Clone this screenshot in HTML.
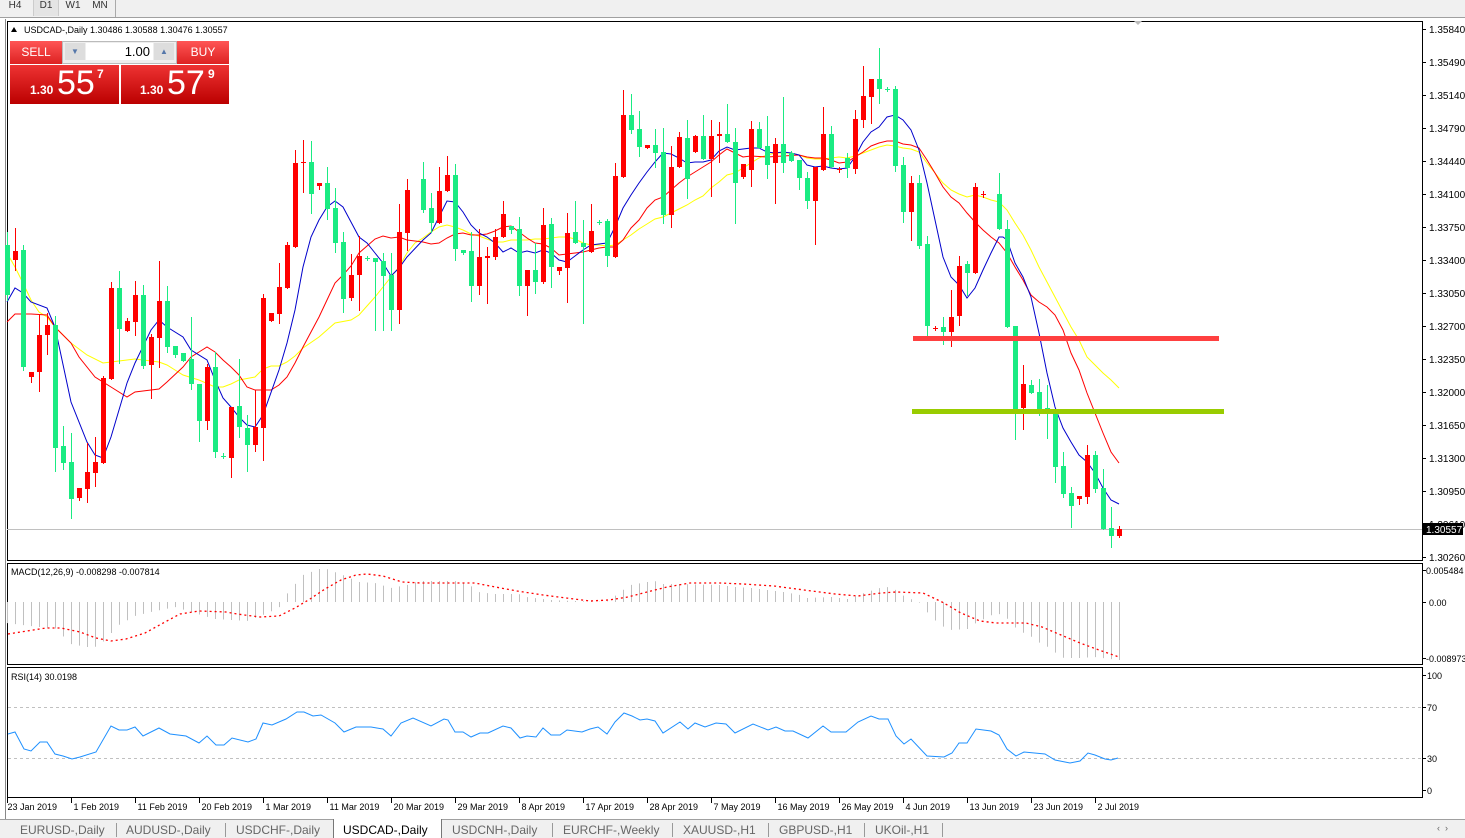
<!DOCTYPE html>
<html><head><meta charset="utf-8">
<style>
html,body{margin:0;padding:0;background:#fff;width:1465px;height:837px;overflow:hidden;font-family:"Liberation Sans",sans-serif;}
#top{position:absolute;left:0;top:0;width:1465px;height:17px;background:#f0f0f0;border-bottom:1px solid #a0a0a0;}
.tb{position:absolute;top:0;height:16px;font-size:10px;line-height:12px;color:#333;text-align:center;}
#bot{position:absolute;left:0;top:819px;width:1465px;height:18px;background:#f0f0f0;border-top:1px solid #a0a0a0;}
.tab{position:absolute;top:3px;font-size:12px;color:#666;}
.sep{position:absolute;top:3px;width:1px;height:14px;background:#999;}
svg{position:absolute;left:0;top:0;}
</style></head><body>
<div id="top">
<div class="tb" style="left:4px;width:22px">H4</div>
<div class="tb" style="left:33px;width:24px;background:#e4e4e4;border-left:1px solid #ccc;border-right:1px solid #ccc">D1</div>
<div class="tb" style="left:62px;width:22px">W1</div>
<div class="tb" style="left:89px;width:22px">MN</div>
<div style="position:absolute;left:115px;top:0;width:1px;height:17px;background:#aaa"></div>
</div>
<div id="bot">
<div class="tab" style="left:20px">EURUSD-,Daily</div><div class="sep" style="left:116px"></div>
<div class="tab" style="left:126px">AUDUSD-,Daily</div><div class="sep" style="left:225px"></div>
<div style="position:absolute;left:333px;top:-1px;width:107px;height:19px;background:#fff;border-left:1px solid #777;border-right:1px solid #777"></div>
<div class="tab" style="left:236px">USDCHF-,Daily</div>
<div class="tab" style="left:343px;color:#000">USDCAD-,Daily</div>
<div class="tab" style="left:452px">USDCNH-,Daily</div><div class="sep" style="left:552px"></div>
<div class="tab" style="left:563px">EURCHF-,Weekly</div><div class="sep" style="left:672px"></div>
<div class="tab" style="left:683px">XAUUSD-,H1</div><div class="sep" style="left:768px"></div>
<div class="tab" style="left:779px">GBPUSD-,H1</div><div class="sep" style="left:864px"></div>
<div class="tab" style="left:875px">UKOil-,H1</div><div class="sep" style="left:942px"></div>
<div class="tab" style="left:1437px;font-size:9px">‹ &nbsp;›</div>
</div>
<svg id="s" width="1465" height="837" xmlns="http://www.w3.org/2000/svg" font-family="Liberation Sans, sans-serif"></svg>
<div style="position:absolute;left:10px;top:41px;width:52px;height:23px;background:linear-gradient(#f55,#d22);color:#fff;font-size:12px;text-align:center;line-height:23px">SELL</div>
<div style="position:absolute;left:62px;top:41px;width:113px;height:21px;background:#eee;border:1px solid #bbb"></div>
<div style="position:absolute;left:65px;top:43px;width:20px;height:17px;background:#ddd;color:#57a;font-size:8px;text-align:center;line-height:17px">▼</div>
<div style="position:absolute;left:86px;top:43px;width:67px;height:17px;background:#fff;font-size:13px;text-align:right;line-height:17px;padding-right:3px;box-sizing:border-box">1.00</div>
<div style="position:absolute;left:154px;top:43px;width:20px;height:17px;background:#ddd;color:#57a;font-size:8px;text-align:center;line-height:17px">▲</div>
<div style="position:absolute;left:177px;top:41px;width:52px;height:23px;background:linear-gradient(#f55,#d22);color:#fff;font-size:12px;text-align:center;line-height:23px">BUY</div>
<div style="position:absolute;left:10px;top:65px;width:109px;height:39px;background:linear-gradient(#e33,#b00);color:#fff">
<span style="position:absolute;left:20px;top:18px;font-size:12px;font-weight:bold">1.30</span>
<span style="position:absolute;left:47px;top:-1px;font-size:34px">55</span>
<span style="position:absolute;left:87px;top:2px;font-size:12px;font-weight:bold">7</span></div>
<div style="position:absolute;left:121px;top:65px;width:108px;height:39px;background:linear-gradient(#e33,#b00);color:#fff">
<span style="position:absolute;left:19px;top:18px;font-size:12px;font-weight:bold">1.30</span>
<span style="position:absolute;left:46px;top:-1px;font-size:34px">57</span>
<span style="position:absolute;left:87px;top:2px;font-size:12px;font-weight:bold">9</span></div>
<script>
var s=document.getElementById('s'),h='';
function L(x1,y1,x2,y2,c,w,extra){h+='<line x1="'+x1+'" y1="'+y1+'" x2="'+x2+'" y2="'+y2+'" stroke="'+c+'" stroke-width="'+(w||1)+'" '+(extra||'')+'/>';}
function T(x,y,t,sz,c){h+='<text x="'+x+'" y="'+y+'" font-size="'+(sz||10)+'" fill="'+(c||'#000')+'">'+t+'</text>';}
// frames
h+='<rect x="7.5" y="21.5" width="1415" height="539" fill="#fff" stroke="#000"/>';
h+='<rect x="7.5" y="563.5" width="1415" height="101" fill="#fff" stroke="#000"/>';
h+='<rect x="7.5" y="667.5" width="1415" height="130" fill="#fff" stroke="#000"/>';
L(5.5,19,5.5,819,'#888',1);
// price axis
var pl=[['1.35840',29],['1.35490',62],['1.35140',95],['1.34790',128],['1.34440',161],['1.34100',194],['1.33750',227],['1.33400',260],['1.33050',293],['1.32700',326],['1.32350',359],['1.32000',392],['1.31650',425],['1.31300',458],['1.30950',491],['1.30610',524],['1.30260',557]];
pl.forEach(function(p){L(1422,p[1]+.5,1426,p[1]+.5,'#000');T(1429,p[1]+4,p[0],10);});
// current price line
L(7,529.5,1422,529.5,'#c0c0c0',1);
h+='<rect x="1423" y="523" width="40" height="12" fill="#000"/>';T(1426,533,'1.30557',10,'#fff');
T(24,33,'USDCAD-,Daily  1.30486 1.30588 1.30476 1.30557',9);
h+='<polygon points="11,32 17,32 14,27" fill="#000"/>';
h+='<polygon points="1134,21 1142,21 1138,25" fill="#bbb"/>';
// MAs
function P(pts,c){h+='<polyline fill="none" stroke="'+c+'" stroke-width="1" points="'+pts+'"/>';}
P("7,253 15,267 23,283 31,300 39,312 47,317 55,327 71,343 87,355 103,363 119,361 135,359 143,360 159,362 167,365 175,370 183,375 199,380 215,387 223,387 231,384 239,380 255,377 263,369 271,366 279,366 287,362 295,356 303,348 319,337 335,323 351,320 359,315 375,297 383,287 391,277 399,267 407,253 415,243 423,238 431,232 439,227 447,225 455,227 463,230 471,234 479,236 487,239 495,242 503,242 511,240 519,240 527,240 535,239 543,239 551,238 559,237 567,237 575,239 583,243 591,245 599,245 607,246 615,245 623,240 631,235 639,229 647,224 655,219 663,217 671,213 679,209 687,205 695,200 703,196 711,188 719,182 727,175 735,173 743,168 751,163 759,158 767,155 775,153 783,153 791,153 799,155 807,158 815,159 823,159 831,158 839,157 847,158 855,156 863,153 871,150 879,147 887,145 895,146 903,148 911,149 919,152 927,163 935,173 943,183 951,190 959,194 967,197 975,195 983,197 991,200 999,202 1007,210 1015,223 1023,235 1031,250 1039,267 1047,282 1055,297 1063,312 1071,327 1079,340 1087,357 1095,365 1103,373 1111,380 1119,388","#ffff00");
P("7,322 15,314 31,314 47,315 55,327 71,343 79,357 95,377 111,387 127,397 135,392 151,390 159,389 167,382 183,367 191,357 199,352 207,347 215,352 223,360 231,367 239,375 247,387 255,390 263,390 271,390 279,385 287,377 295,363 303,347 311,332 319,317 327,300 335,283 343,275 351,266 359,253 375,239 383,236 391,238 399,237 407,240 423,242 431,244 439,243 447,238 455,234 463,233 471,235 479,235 487,234 495,231 503,227 511,226 519,232 527,238 535,243 543,244 551,248 559,255 567,254 575,253 583,252 591,250 599,248 607,247 615,247 623,240 631,228 639,220 647,208 655,200 663,197 671,190 679,183 687,177 695,172 703,167 711,162 719,155 727,149 735,153 743,157 751,156 767,157 783,156 799,155 807,157 815,158 823,158 831,160 839,163 847,162 855,157 863,152 871,146 879,143 887,141 895,141 903,144 911,145 919,148 927,160 935,173 943,187 951,197 959,203 967,213 975,222 983,230 991,237 999,243 1007,253 1015,267 1023,280 1031,295 1039,302 1047,307 1055,315 1063,330 1071,353 1079,370 1087,393 1095,413 1103,433 1111,452 1119,463","#ff0000");
P("7,302 15,288 23,293 31,302 47,308 55,327 71,402 87,442 95,455 103,458 111,437 127,383 135,363 151,330 159,320 167,327 183,337 191,350 207,360 215,380 223,398 231,407 239,417 247,425 255,427 263,415 279,370 287,343 295,310 303,267 311,237 319,220 327,207 335,201 343,207 351,222 359,237 367,243 375,253 383,263 391,276 399,268 407,257 423,240 431,233 439,217 447,201 455,202 463,212 471,225 479,233 487,237 495,243 503,252 511,248 519,253 527,251 535,253 543,250 551,253 559,260 567,262 575,256 583,250 591,245 599,244 607,243 615,227 623,208 631,195 639,183 647,172 655,162 663,153 671,154 679,158 687,163 695,162 703,162 711,160 719,151 727,147 735,150 743,149 751,148 759,148 767,152 775,153 783,152 791,153 799,155 807,165 815,167 823,166 831,168 839,169 847,168 855,157 863,142 871,132 879,127 887,117 895,115 903,120 911,130 919,150 927,183 935,220 943,257 951,277 959,285 967,298 975,288 983,270 991,253 999,237 1003,237 1007,240 1015,263 1023,277 1031,297 1039,333 1047,373 1055,407 1063,428 1071,442 1079,455 1087,462 1095,473 1103,488 1111,500 1119,504","#0000cc");
// candles
var B="0g245,295,232,300|1r251,260,228,270|2g250,367,245,370|3r372,377,372,382|4r335,372,315,391|5r325,335,313,354|6g325,448,316,471|7g446,463,426,469|8g462,499,433,518|9r488,498,488,500|10r472,489,443,502|11r462,473,437,486|12r378,463,376,463|13r288,379,282,379|14g288,329,271,363|15r321,331,318,331|16r295,322,281,335|17g295,366,285,368|18r337,365,334,398|19r301,338,261,367|20g301,347,286,352|21g346,355,346,357|22g353,361,353,361|23g359,384,317,389|24g384,421,384,441|25r367,421,364,429|26g367,452,352,457|27g456,456,453,458|28r407,458,407,477|29g406,427,359,437|30g428,445,415,471|31r427,445,390,451|32r298,428,294,460|33r313,321,313,321|34r287,314,263,323|35r245,288,242,288|36r163,247,150,247|37r162,162,140,192|38g162,194,141,213|39r183,186,183,189|40g183,209,167,219|41g208,243,188,252|42g242,299,232,312|43r275,298,254,300|44r256,275,236,310|45g258,258,256,260|46g258,262,258,330|47g261,276,253,330|48g275,310,253,330|49r232,310,204,323|50r190,233,179,250|52g179,210,162,212|53g208,223,193,232|54r191,223,167,223|55r175,191,156,191|56g175,249,164,260|57g250,253,250,254|58g251,286,232,301|59r257,286,229,294|60r256,258,247,303|61r237,257,229,259|62r214,237,201,237|63g226,230,226,233|64g229,286,217,295|65r270,286,270,315|66g270,282,243,293|67r225,282,208,283|68g224,267,218,287|69r267,271,267,274|70r233,268,213,302|71g232,243,201,243|72g243,247,220,323|73r231,252,204,252|74g222,222,220,224|75g221,256,219,266|76r176,257,163,257|77r115,177,90,177|78g115,130,94,133|79g129,147,111,156|80r145,148,145,148|81g145,153,129,167|82g152,215,128,223|83r167,215,146,227|84r137,167,132,167|85g138,179,120,198|86r136,152,135,152|87g136,159,115,159|88r136,159,120,196|89r134,136,122,162|90g134,142,104,142|91g142,183,128,223|92r164,177,164,178|93r129,170,121,186|94g129,148,122,148|95g146,165,116,178|96r144,163,138,203|97g144,163,97,172|98g153,161,151,161|99g160,178,160,189|100g178,201,172,208|101r167,201,167,244|102r134,170,107,170|103g134,167,126,167|104r169,169,167,172|105g158,168,153,177|106r119,169,110,173|107r96,120,66,127|108r79,97,79,123|109g79,89,48,103|110g89,89,87,91|111g89,166,86,171|112g165,212,157,222|113r183,212,176,240|114g183,246,175,248|115g244,326,236,335|116r328,328,326,330|117g327,332,317,344|118r317,332,290,346|119r266,316,256,325|120g264,273,261,295|121r187,273,183,273|122r194,194,191,197|124g194,229,173,229|125g229,327,220,327|126g326,409,326,439|127r384,408,365,429|128g385,393,380,393|129g392,409,379,415|130g408,414,385,438|131g413,467,413,482|132g466,494,452,497|133g493,506,487,527|134r496,499,496,504|135r455,497,445,503|136g455,489,451,492|137g488,529,469,529|138g528,536,507,547|139r529,536,526,537";
B.split('|').forEach(function(b){var m=b.match(/^(\d+)([rg])(.*)$/);var k=+m[1],c=m[2]=='r'?'#ff0000':'#1aeb82';var v=m[3].split(',').map(Number);var x=7.5+8*k;
L(x,v[2],x,v[3]+1,c,1);
if(v[0]==v[1]){L(x-2.5,v[0]+.5,x+2.5,v[0]+.5,c,1);}else{h+='<rect x="'+(x-2.5)+'" y="'+v[0]+'" width="5" height="'+(v[1]-v[0])+'" fill="'+c+'"/>';}
});
// horizontal levels
h+='<rect x="913" y="336" width="306" height="5" fill="#ff4040"/>';
h+='<rect x="912" y="409" width="312" height="5" fill="#99cc00"/>';
// MACD
function interp(kf,x){for(var i=0;i<kf.length-1;i++){if(x>=kf[i][0]&&x<=kf[i+1][0]){var t=(x-kf[i][0])/(kf[i+1][0]-kf[i][0]);return kf[i][1]+t*(kf[i+1][1]-kf[i][1]);}}return x<kf[0][0]?kf[0][1]:kf[kf.length-1][1];}
var HK=[[7,623],[39,627],[55,628],[71,644],[87,647],[95,647],[103,642],[119,625],[135,616],[151,612],[175,607],[191,612],[215,619],[247,621],[263,615],[279,608],[287,594],[303,575],[319,569],[327,569],[343,575],[359,582],[375,583],[391,588],[407,585],[420,581],[455,581],[463,583],[471,586],[479,592],[495,594],[519,594],[527,597],[551,600],[575,601],[607,602],[615,596],[623,590],[631,585],[647,582],[655,581],[663,584],[680,584],[720,585],[735,587],[751,588],[768,590],[784,592],[800,595],[807,598],[831,597],[848,599],[864,593],[880,588],[888,587],[896,590],[904,596],[911,599],[919,602],[928,613],[936,621],[944,627],[952,630],[968,629],[976,623],[984,619],[992,615],[1000,614],[1008,619],[1016,628],[1024,633],[1032,637],[1040,643],[1048,647],[1056,653],[1064,658],[1079,658],[1095,657],[1111,659],[1119,660]];
for(var k=0;k<140;k++){var x=7.5+8*k;var y=interp(HK,x);L(x,602,x,y,'#c0c0c0',1);}
P0="8,634 46,628 61,628 80,632 96,638 111,641 126,639 145,633 165,622 180,614 199,611 226,612 237,614 260,617 279,616 295,608 310,599 325,589 341,580 356,575 367,574 383,576 402,582 421,583 459,583 475,583 490,586 517,591 543,595 574,599 590,601 609,600 628,597 647,592 667,587 690,583 720,583 743,584 774,586 804,590 835,594 858,596 881,593 896,592 923,593 942,602 961,613 980,621 996,623 1026,623 1042,627 1061,635 1080,643 1099,650 1119,657";
h+='<polyline fill="none" stroke="#ff0000" stroke-width="1.3" stroke-dasharray="2,3" points="'+P0+'"/>';
T(11,575,'MACD(12,26,9) -0.008298 -0.007814',9);
L(1422,570.5,1426,570.5,'#000');T(1426,574,'0.005484',9);
L(1422,602.5,1426,602.5,'#000');T(1429,606,'0.00',9);
L(1422,658.5,1426,658.5,'#000');T(1426,662,'-0.008973',9);
// RSI
L(8,707.5,1422,707.5,'#c0c0c0',1,'stroke-dasharray="3,3"');
L(8,758.5,1422,758.5,'#c0c0c0',1,'stroke-dasharray="3,3"');
P("8,734 15,732 24,749 31,751 40,742 47,742 55,754 63,756 72,759 80,757 96,752 111,726 119,730 127,730 135,727 143,736 159,728 170,734 186,736 199,743 207,736 216,745 224,745 232,738 248,742 256,739 263,723 272,725 286,719 297,712 304,712 313,716 321,715 335,723 344,732 356,727 371,727 383,729 391,736 401,723 413,718 431,726 444,719 448,720 455,732 463,732 471,737 480,733 488,733 503,726 511,728 520,738 527,736 536,737 543,728 551,735 560,735 567,730 582,732 590,729 598,727 607,734 615,722 624,713 632,716 640,720 647,719 655,721 663,733 680,722 688,729 695,723 705,727 716,723 726,724 735,733 753,724 768,730 776,727 785,731 793,731 808,738 823,726 831,732 846,732 858,722 871,716 879,719 888,719 896,736 904,744 911,739 927,756 944,757 952,753 959,743 967,743 976,729 991,731 999,735 1007,749 1016,756 1024,752 1045,754 1055,760 1070,763 1080,761 1088,753 1095,755 1105,759 1111,760 1118,758","#1e90ff");
T(11,680,'RSI(14) 30.0198',9);
[['100',675],['70',707],['30',758],['0',790]].forEach(function(p){L(1422,p[1]+.5,1426,p[1]+.5,'#000');T(1427,p[1]+4,p[0],9);});
// dates
var D=['23 Jan 2019','1 Feb 2019','11 Feb 2019','20 Feb 2019','1 Mar 2019','11 Mar 2019','20 Mar 2019','29 Mar 2019','8 Apr 2019','17 Apr 2019','28 Apr 2019','7 May 2019','16 May 2019','26 May 2019','4 Jun 2019','13 Jun 2019','23 Jun 2019','2 Jul 2019'];
D.forEach(function(d,i){var x=7.5+64*i;L(x,798,x,803,'#000');T(x+(i==0?0:2),810,d,9);});
s.innerHTML=h;
</script>
</body></html>
